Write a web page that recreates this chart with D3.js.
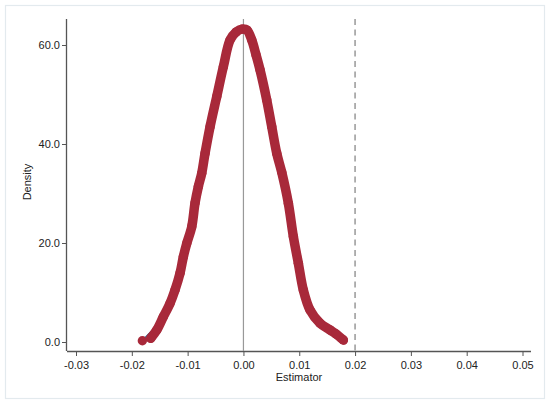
<!DOCTYPE html>
<html>
<head>
<meta charset="utf-8">
<script src="https://cdn.jsdelivr.net/npm/d3@7"></script>
<style>
  html, body { margin: 0; padding: 0; background: #fff; }
  svg { display: block; font-family: "Liberation Sans", Arial, sans-serif; }
</style>
</head>
<body>
<svg id="chart" width="550" height="404"></svg>
<script>
// Estimator values (x) and kernel density (y)
const estX = [-0.01811, -0.01661, -0.01553, -0.01435, -0.01315, -0.01226, -0.01136, -0.01077, -0.01016, -0.00926,
              -0.00867, -0.00808, -0.00747, -0.00688, -0.00598, -0.00478, -0.00360, -0.00240, -0.00133, -0.00025,
               0.00065, 0.00149, 0.00226, 0.00297, 0.00417, 0.00507, 0.00597, 0.00686, 0.00805, 0.00894,
               0.00984, 0.01073, 0.01193, 0.01373, 0.01552, 0.01659, 0.01790];
const density = [0.26, 0.75, 2.42, 5.11, 7.82, 10.5, 13.9, 17.2, 19.9, 23.3,
                 28.1, 31.4, 34.1, 38.1, 43.5, 49.6, 55.6, 61.0, 62.6, 63.2,
                 63.0, 61.0, 58.0, 55.0, 48.9, 43.5, 38.1, 34.3, 28.0, 21.3,
                 15.9, 10.5, 6.46, 3.78, 2.42, 1.62, 0.40];
// Smooth reference density (blue line), visible only at the tails
const refX = [-0.01811, -0.01663, -0.01553, -0.01315, -0.01016, -0.00688, -0.00360, -0.00025,
               0.00297, 0.00686, 0.00984, 0.01086, 0.01180, 0.01290, 0.01373];
const refDensity = [0.26, 2.0, 3.0, 7.82, 19.9, 38.1, 55.6, 63.2,
                    55.0, 34.3, 15.9, 9.9, 6.6, 4.8, 3.78];
const xTicks = [-0.03, -0.02, -0.01, 0.00, 0.01, 0.02, 0.03, 0.04, 0.05];
const yTicks = [0, 20, 40, 60];
const refLine = 0.02;

const svg = d3.select("#chart");

// outer frame
svg.append("rect").attr("x", 5.5).attr("y", 5.5).attr("width", 539).attr("height", 393)
  .attr("fill", "#fff").attr("stroke", "#e3eaee").attr("stroke-width", 1.2);

const x = d3.scaleLinear().domain([-0.03, 0.05]).range([76, 522.5]);
const y = d3.scaleLinear().domain([0, 60]).range([342, 45]);
const plotTop = 19, plotBottom = 351, plotLeft = 67, plotRight = 531;
const fmtX = d => d.toFixed(2);

// x axis
const xAxis = d3.axisBottom(x).tickValues(xTicks).tickFormat(fmtX).tickSize(5).tickSizeOuter(0);
const gx = svg.append("g").attr("transform", `translate(0,${plotBottom})`).call(xAxis);
gx.select(".domain").remove();
gx.append("line").attr("x1", plotLeft).attr("x2", plotRight).attr("y1", 0.5).attr("y2", 0.5)
  .attr("stroke", "#555").attr("stroke-width", 1.3);
gx.selectAll(".tick line").attr("stroke", "#555");
gx.selectAll(".tick text").attr("fill", "#222").attr("font-size", 11).attr("dy", "0.95em");

// y axis
const yAxis = d3.axisLeft(y).tickValues(yTicks).tickFormat(d => d.toFixed(1)).tickSize(5).tickSizeOuter(0);
const gy = svg.append("g").attr("transform", `translate(${plotLeft},0)`).call(yAxis);
gy.select(".domain").remove();
gy.append("line").attr("x1", -0.5).attr("x2", -0.5).attr("y1", plotTop).attr("y2", plotBottom)
  .attr("stroke", "#555").attr("stroke-width", 1.3);
gy.selectAll(".tick line").attr("stroke", "#555");
gy.selectAll(".tick text").attr("fill", "#222").attr("font-size", 11).attr("x", -7);

// axis titles
svg.append("text").attr("x", 299).attr("y", 381).attr("text-anchor", "middle")
  .attr("font-size", 11).attr("fill", "#222").text("Estimator");
svg.append("text").attr("transform", "translate(31,182) rotate(-90)").attr("text-anchor", "middle")
  .attr("font-size", 11).attr("fill", "#222").text("Density");

// reference lines
svg.append("line").attr("x1", x(0)).attr("x2", x(0)).attr("y1", plotTop).attr("y2", plotBottom)
  .attr("stroke", "#999").attr("stroke-width", 1.2);
svg.append("line").attr("x1", x(refLine)).attr("x2", x(refLine)).attr("y1", plotTop).attr("y2", plotBottom)
  .attr("stroke", "#999").attr("stroke-width", 1.5).attr("stroke-dasharray", "6,4.5");

// blue smooth density
const refPts = refX.map((v, i) => [v, refDensity[i]]);
svg.append("path").datum(refPts)
  .attr("d", d3.line().x(d => x(d[0])).y(d => y(d[1])).curve(d3.curveMonotoneX))
  .attr("fill", "none").attr("stroke", "#1f5f8b").attr("stroke-width", 1.3);

// red dense markers
const red = "#a8293a";
const pts = estX.map((v, i) => [v, density[i]]);
svg.append("path").datum(pts.slice(1))
  .attr("d", d3.line().x(d => x(d[0])).y(d => y(d[1])).curve(d3.curveCatmullRom))
  .attr("fill", "none").attr("stroke", red).attr("stroke-width", 9.5)
  .attr("stroke-linecap", "round").attr("stroke-linejoin", "round");
svg.append("g").selectAll("circle").data(pts).join("circle")
  .attr("cx", d => x(d[0])).attr("cy", d => y(d[1])).attr("r", 4.7).attr("fill", red);
</script>
</body>
</html>
